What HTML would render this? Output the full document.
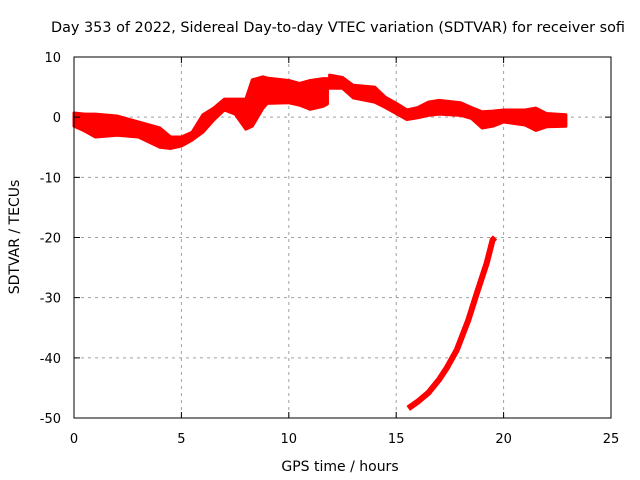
<!DOCTYPE html>
<html><head><meta charset="utf-8"><style>
body{margin:0;background:#fff}
svg{display:block;font-family:"DejaVu Sans","Liberation Sans",sans-serif}
</style></head><body>
<svg id="chart" width="640" height="480" viewBox="0 0 640 480">
<text x="338" y="32" font-size="14" text-anchor="middle" textLength="574" lengthAdjust="spacingAndGlyphs">Day 353 of 2022, Sidereal Day-to-day VTEC variation (SDTVAR) for receiver sofi</text>
<g id="grid"></g>
<g id="marks"></g>
<rect x="74" y="57" width="537" height="361" fill="none" stroke="#000" stroke-width="1"/>
<g id="ticks"></g>
<text x="340" y="471" font-size="14" text-anchor="middle">GPS time / hours</text>
<text transform="translate(19,237) rotate(-90)" font-size="14" text-anchor="middle">SDTVAR / TECUs</text>
</svg>
<script>
const xTicks=[0,5,10,15,20,25];
const yTicks=[10,0,-10,-20,-30,-40,-50];
const yTickLabels=["10","0","-10","-20","-30","-40","-50"];
// main band: hours, upper and lower values
const h1=[0,0.5,1,2,3,4,4.5,5,5.5,6,6.5,7,7.5,8,8.3,8.8,9,10,10.5,11,11.6,11.8];
const hi1=[0.7,0.5,0.5,0.2,-0.8,-1.8,-3.3,-3.3,-2.5,0.4,1.5,3.0,3.0,3.0,6.2,6.7,6.5,6.1,5.6,6.1,6.4,6.4];
const lo1=[-1.5,-2.3,-3.3,-3.0,-3.3,-5.0,-5.2,-4.8,-3.8,-2.5,-0.5,1.2,0.5,-2.0,-1.5,1.5,2.3,2.4,2.0,1.3,1.8,2.2];
const h2=[11.9,12.5,13,14,14.5,15,15.5,16,16.5,17,18,18.5,19,19.5,20,21,21.5,22,22.9];
const hi2=[7.0,6.6,5.3,5.0,3.3,2.3,1.2,1.6,2.5,2.8,2.4,1.6,0.9,1.0,1.2,1.2,1.5,0.6,0.4];
const lo2=[4.8,4.8,3.2,2.5,1.6,0.6,-0.4,-0.1,0.3,0.5,0.3,-0.2,-1.8,-1.5,-0.8,-1.3,-2.2,-1.6,-1.5];
const h3=[15.56,16,16.5,17,17.35,17.82,18.36,18.75,19.21,19.49,19.6];
const v3=[-48.4,-47.3,-45.8,-43.6,-41.7,-38.7,-33.7,-29.3,-24.3,-20.4,-20.0];
const X=h=>74+h*(537/25);
const Y=v=>418-(v+50)*(361/60);
const NS="http://www.w3.org/2000/svg";
const grid=document.getElementById('grid'),ticks=document.getElementById('ticks'),marks=document.getElementById('marks');
function mk(tag,attrs,parent){const e=document.createElementNS(NS,tag);for(const k in attrs)e.setAttribute(k,attrs[k]);parent.appendChild(e);return e;}
xTicks.forEach((t,i)=>{
  if(i>0&&i<xTicks.length-1){const g=mk('line',{x1:X(t),x2:X(t),y1:57,y2:418,stroke:'#a0a0a0','stroke-dasharray':'3,4'},grid);
  
  }
  const tk=mk('path',{d:`M${X(t)},418v-6M${X(t)},57v6`,stroke:'#000'},ticks);
  
  
  const l=mk('text',{x:X(t),y:443,'font-size':13,'text-anchor':'middle'},ticks);l.textContent=t;
  
  
});
yTicks.forEach((t,i)=>{
  if(i>0&&i<yTicks.length-1){const g=mk('line',{x1:74,x2:611,y1:Y(t),y2:Y(t),stroke:'#a0a0a0','stroke-dasharray':'3,4'},grid);
  
  }
  const tk=mk('path',{d:`M74,${Y(t)}h6M611,${Y(t)}h-6`,stroke:'#000'},ticks);
  
  
  const l=mk('text',{x:61,y:Y(t)+5,'font-size':13,'text-anchor':'end'},ticks);l.textContent=yTickLabels[i];
  
  
});
function band(h,hi,lo,name){
  let d='M'+h.map((x,i)=>X(x)+','+Y(hi[i])).join('L');
  for(let i=h.length-1;i>=0;i--)d+='L'+X(h[i])+','+Y(lo[i]);
  const p=mk('path',{d:d+'Z',fill:'#ff0000',stroke:'#ff0000','stroke-width':3,'stroke-linejoin':'round'},marks);
  
  
}
band(h1,hi1,lo1,'sdtvar-band-early');
band(h2,hi2,lo2,'sdtvar-band-late');
const l3=mk('polyline',{points:h3.map((x,i)=>X(x)+','+Y(v3[i])).join(' '),fill:'none',stroke:'#ff0000','stroke-width':6},marks);


</script>
</body></html>
